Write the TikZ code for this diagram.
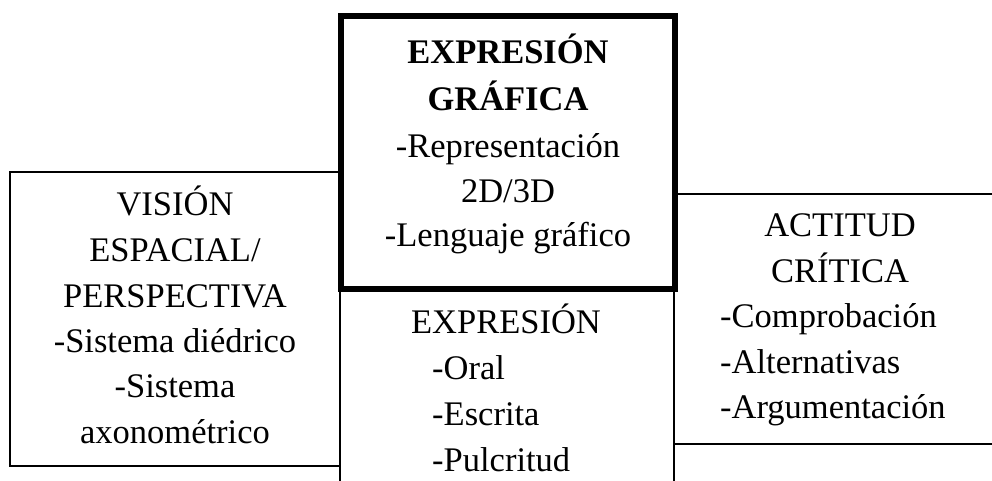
\documentclass[tikz,border=0pt]{standalone}
\usepackage{fontspec}
\setmainfont{Liberation Serif}
\begin{document}
\begin{tikzpicture}[x=1pt,y=-1pt,
  txt/.style={inner sep=0pt, font=\fontsize{34.5}{45}\selectfont},
  ctr/.style={txt, anchor=base},
  lft/.style={txt, anchor=base west},
  thinbox/.style={line width=1.1pt},
  thickbox/.style={line width=6pt}]
\useasboundingbox (0,0) rectangle (992,480);
\begin{scope}
\clip (0,0) rectangle (992,480);
% left box
\draw[thinbox] (10,172) rectangle (340,466);
% bottom box
\draw[thinbox] (340,289) rectangle (674,500);
% right box
\draw[thinbox] (674,194) rectangle (1010,444);
% central thick box
\draw[thickbox] (341,16) rectangle (675,289);
\end{scope}
% left texts
\node[ctr] (l1) at (175,215) {VISIÓN};
\node[ctr] (l2) at (175,261) {ESPACIAL/};
\node[ctr] (l3) at (175,307) {PERSPECTIVA};
\node[ctr] (l4) at (175,352) {-Sistema diédrico};
\node[ctr] (l5) at (175,397) {-Sistema};
\node[ctr] (l6) at (175,443) {axonométrico};
% top texts
\node[ctr,font=\fontsize{34.5}{45}\selectfont\bfseries] (t1) at (508,63) {EXPRESIÓN};
\node[ctr,font=\fontsize{34.5}{45}\selectfont\bfseries] (t2) at (508,110) {GRÁFICA};
\node[ctr] (t3) at (508,157) {-Representación};
\node[ctr] (t4) at (508,202) {2D/3D};
\node[ctr] (t5) at (508,246) {-Lenguaje gráfico};
% bottom texts
\node[ctr] (b1) at (506,333) {EXPRESIÓN};
\node[lft] (b2) at (432,379) {-Oral};
\node[lft] (b3) at (432,425) {-Escrita};
\node[lft] (b4) at (432,471) {-Pulcritud};
% right texts
\node[ctr] (r1) at (840,236) {ACTITUD};
\node[ctr] (r2) at (840,282) {CRÍTICA};
\node[lft] (r3) at (720,327) {-Comprobación};
\node[lft] (r4) at (720,373) {-Alternativas};
\node[lft] (r5) at (720,418) {-Argumentación};
\end{tikzpicture}
\end{document}
